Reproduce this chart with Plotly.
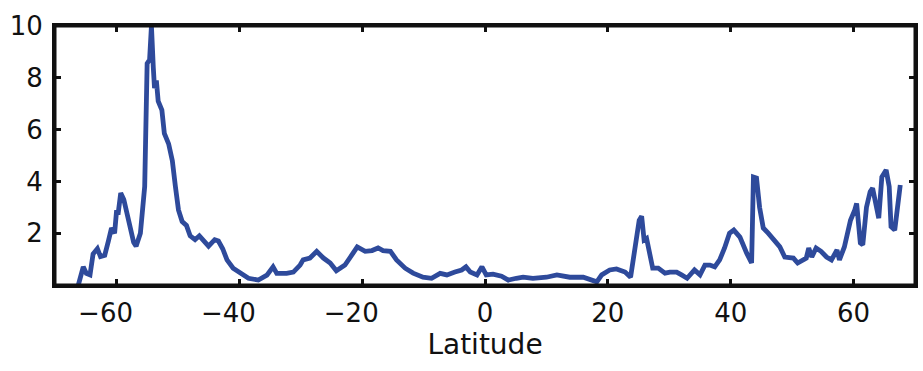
import plotly.graph_objects as go

latitude = [-66.2, -65.4, -64.9, -64.3, -63.8, -63.1, -62.6, -61.9, -61.3, -60.8, -60.3, -60.0, -59.7, -59.3,
            -58.8, -58.0, -57.2, -56.8, -56.1, -55.4, -55.2, -55.0, -54.6, -54.3, -54.0, -53.8, -53.5, -53.2,
            -52.6, -52.2, -51.5, -50.9, -50.4, -49.9, -49.3, -48.6, -48.0, -47.2, -46.5, -45.9, -45.0, -44.0,
            -43.4, -42.7, -42.0, -41.0, -39.8, -38.5, -36.9, -35.5, -34.5, -33.9, -32.3, -31.2, -30.1, -29.6,
            -28.5, -27.4, -26.3, -25.2, -24.2, -22.8, -21.7, -20.8, -19.5, -18.4, -17.4, -16.6, -15.4, -14.4,
            -13.0, -11.7, -10.1, -8.7, -7.3, -6.2, -4.9, -3.8, -3.1, -2.4, -1.3, -0.5, 0.2, 1.3, 2.7, 3.8,
            5.1, 6.2, 7.8, 10.0, 11.7, 13.8, 16.0, 18.2, 19.0, 20.3, 21.4, 22.8, 23.7, 24.4, 25.1, 25.5,
            25.9, 26.3, 26.8, 27.3, 28.2, 29.3, 30.1, 31.2, 32.0, 32.9, 34.1, 35.0, 35.8, 36.6, 37.4, 38.2,
            39.0, 39.8, 40.5, 41.5, 42.6, 43.4, 43.7, 44.2, 44.7, 45.3, 46.1, 46.9, 48.0, 48.8, 49.6, 50.2,
            50.9, 51.7, 52.3, 52.7, 53.2, 53.9, 54.7, 55.6, 56.4, 57.3, 57.7, 58.5, 59.5, 60.2, 60.5, 61.1,
            61.5, 62.1, 62.7, 63.1, 63.7, 64.1, 64.6, 65.3, 65.8, 66.1, 66.7, 67.2, 67.6]
value = [0.0, 0.7, 0.45, 0.39, 1.2, 1.4, 1.1, 1.15, 1.7, 2.2, 2.0, 2.8, 2.8, 3.55,
         3.3, 2.4, 1.65, 1.5, 2.0, 3.8, 7.1, 8.55, 8.7, 10.0, 8.4, 7.6, 7.9, 7.1,
         6.75, 5.85, 5.45, 4.8, 3.8, 2.9, 2.45, 2.3, 1.9, 1.75, 1.9, 1.75, 1.5, 1.75,
         1.7, 1.4, 0.97, 0.65, 0.45, 0.26, 0.19, 0.38, 0.7, 0.45, 0.45, 0.5, 0.77, 0.97,
         1.04, 1.3, 1.04, 0.85, 0.55, 0.77, 1.15, 1.47, 1.3, 1.33, 1.43, 1.33, 1.3, 0.97,
         0.65, 0.46, 0.3, 0.26, 0.45, 0.39, 0.5, 0.58, 0.7, 0.5, 0.39, 0.7, 0.39, 0.42, 0.34, 0.19,
         0.26, 0.3, 0.26, 0.3, 0.39, 0.3, 0.3, 0.12, 0.39, 0.58, 0.62, 0.5, 0.3, 1.35, 2.5, 2.65,
         1.74, 1.8, 1.1, 0.65, 0.65, 0.46, 0.5, 0.5, 0.39, 0.26, 0.58, 0.39, 0.77, 0.77, 0.7, 0.97,
         1.43, 2.0, 2.12, 1.85, 1.23, 0.85, 4.17, 4.13, 3.0, 2.2, 2.0, 1.8, 1.47, 1.08, 1.08, 1.04,
         0.85, 0.97, 1.04, 1.43, 1.08, 1.43, 1.3, 1.08, 0.97, 1.35, 0.97, 1.47, 2.5, 2.9, 3.15, 1.62,
         1.55, 3.0, 3.6, 3.74, 3.15, 2.58, 4.17, 4.44, 3.8, 2.25, 2.12, 3.0, 3.86]

x_ticks = [-60, -40, -20, 0, 20, 40, 60]
y_ticks = [2, 4, 6, 8, 10]
x_title = "Latitude"

pad = "<span style='color:rgba(0,0,0,0)'>\u2212</span>"
x_ticktext = [("\u2212" + str(abs(v)) + pad) if v < 0 else str(v) for v in x_ticks]

fig = go.Figure()
fig.add_trace(go.Scatter(x=latitude, y=value, mode="lines",
                         line=dict(color="#2E4A9B", width=4.8), showlegend=False))
# invisible trace on mirrored axes to carry top/right ticks
fig.add_trace(go.Scatter(x=[None], y=[None], xaxis="x2", yaxis="y2", showlegend=False, hoverinfo="skip"))

font = dict(family="DejaVu Sans, sans-serif", size=26, color="#111")
axis_common = dict(showline=True, linecolor="#111", linewidth=3,
                   ticks="inside", ticklen=6, tickwidth=3, tickcolor="#111",
                   showgrid=False, zeroline=False)
fig.update_layout(
    width=923, height=371,
    margin=dict(l=55, r=8, t=26, b=86),
    paper_bgcolor="white", plot_bgcolor="white",
    font=font,
    xaxis=dict(range=[-70, 70], tickvals=x_ticks, ticktext=x_ticktext,
               ticklabelstandoff=3,
               title=dict(text=x_title, font=dict(size=28), standoff=2), **axis_common),
    yaxis=dict(range=[0, 10], tickvals=y_ticks, ticklabelstandoff=4, **axis_common),
    xaxis2=dict(range=[-70, 70], tickvals=x_ticks, overlaying="x", side="top",
                showticklabels=False, anchor="y2", **axis_common),
    yaxis2=dict(range=[0, 10], tickvals=y_ticks, overlaying="y", side="right",
                showticklabels=False, anchor="x2", **axis_common),
)
fig.add_shape(type="rect", xref="paper", yref="paper", x0=0, y0=0, x1=1, y1=1,
              line=dict(color="#111", width=3), layer="above")

fig.write_html("out.html")
